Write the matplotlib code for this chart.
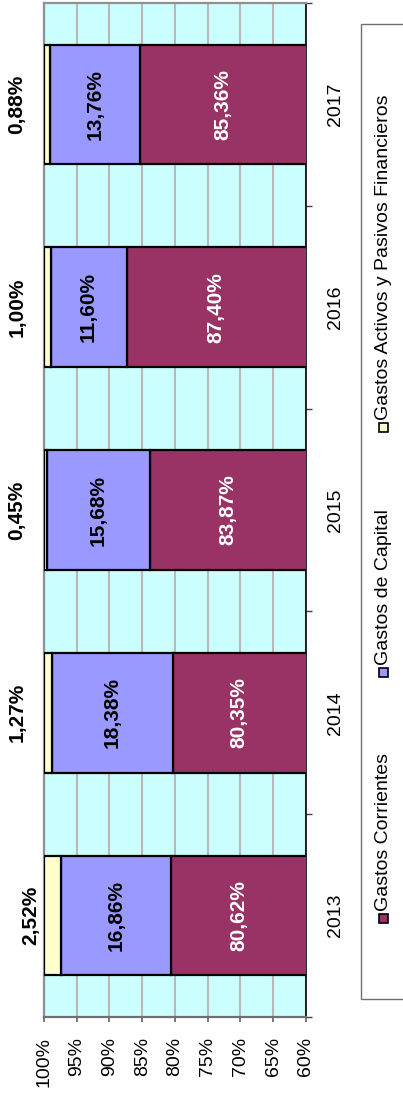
import matplotlib
matplotlib.use("Agg")
import matplotlib.pyplot as plt
from matplotlib.patches import Rectangle

plt.rcParams['font.family'] = ['Liberation Sans', 'DejaVu Sans']

# data (percent of total spending per year)
years = ["2013", "2014", "2015", "2016", "2017"]
corrientes = [80.62, 80.35, 83.87, 87.40, 85.36]
capital = [16.86, 18.38, 15.68, 11.60, 13.76]
activos = [2.52, 1.27, 0.45, 1.00, 0.88]
series_names = ["Gastos Corrientes", "Gastos de Capital",
                "Gastos Activos y Pasivos Financieros"]
value_ticks = [100, 95, 90, 85, 80, 75, 70, 65, 60]


def fmt(v):
    return f"{v:.2f}%".replace(".", ",")


W, H = 403, 1094
fig = plt.figure(figsize=(W / 100, H / 100), dpi=100)
ax = fig.add_axes([44 / W, 1 - 1017 / H, 262 / W, 1014 / H])
ax.set_facecolor("#CCFFFF")

colors = ["#993366", "#9999FF", "#FFFFCC"]
pos = list(range(len(years)))
bh = 0.59

left_cap = corrientes
left_act = [a + b for a, b in zip(corrientes, capital)]
ax.barh(pos, corrientes, left=0, height=bh, color=colors[0],
        edgecolor="black", linewidth=1.6, zorder=3)
ax.barh(pos, capital, left=left_cap, height=bh, color=colors[1],
        edgecolor="black", linewidth=1.6, zorder=3)
ax.barh(pos, activos, left=left_act, height=bh, color=colors[2],
        edgecolor="black", linewidth=1.6, zorder=3)

ax.set_xlim(100, 60)
ax.set_ylim(-0.5, len(years) - 0.5)

# data labels
for i in pos:
    ax.text((60 + corrientes[i]) / 2, i, fmt(corrientes[i]), rotation=90,
            ha="center", va="center", color="white", fontsize=15,
            fontweight="bold", zorder=5)
    ax.text((corrientes[i] + left_act[i]) / 2, i, fmt(capital[i]), rotation=90,
            ha="center", va="center", color="black", fontsize=15,
            fontweight="bold", zorder=5)
act_off = [-13, -27, -27, -27, -27]  # px left of plot edge
for i in pos:
    ax.annotate(fmt(activos[i]), xy=(100, i), xytext=(act_off[i] * 0.72, 0),
                textcoords="offset points", rotation=90, ha="center",
                va="center", fontsize=15, fontweight="bold",
                annotation_clip=False)

# value axis (bottom)
ax.set_xticks(value_ticks)
ax.set_xticklabels([f"{v}%" for v in value_ticks], rotation=90, fontsize=14)
ax.tick_params(axis="x", length=3.6, width=1.2, color="#606060", pad=11)
ax.grid(axis="x", color="#B8B8B8", linewidth=1.5, zorder=0)
ax.set_axisbelow(True)

# category axis (right)
ax.yaxis.tick_right()
ax.set_yticks(pos)
ax.set_yticklabels(years, rotation=90, fontsize=14, va="center")
ax.tick_params(axis="y", which="major", length=0, pad=15)
ax.set_yticks([p - 0.5 for p in pos] + [len(years) - 0.5], minor=True)
ax.tick_params(axis="y", which="minor", length=4.5, width=1.0,
               color="#404040", right=True, left=False)

for s in ["left", "top"]:
    ax.spines[s].set_color("#909090")
    ax.spines[s].set_linewidth(1.6)
ax.spines["bottom"].set_color("#707070")
ax.spines["bottom"].set_linewidth(1.6)
ax.spines["right"].set_color("black")
ax.spines["right"].set_linewidth(1.2)

# legend, drawn rotated by hand
fig.patches.append(Rectangle((361 / W, 1 - 999 / H), 60 / W, 975 / H,
                             transform=fig.transFigure, facecolor="white",
                             edgecolor="#707070", linewidth=1.0))
marker_y = [918, 672, 427]
for name, c, my in zip(series_names, colors, marker_y):
    fig.patches.append(Rectangle(((383 - 4.5) / W, 1 - (my + 4.5) / H),
                                 9 / W, 9 / H, transform=fig.transFigure,
                                 facecolor=c, edgecolor="black",
                                 linewidth=1.2))
    fig.text(383 / W, 1 - (my - 7) / H, name, rotation=90, ha="center",
             va="bottom", fontsize=14)

fig.savefig("out.png", dpi=100)
